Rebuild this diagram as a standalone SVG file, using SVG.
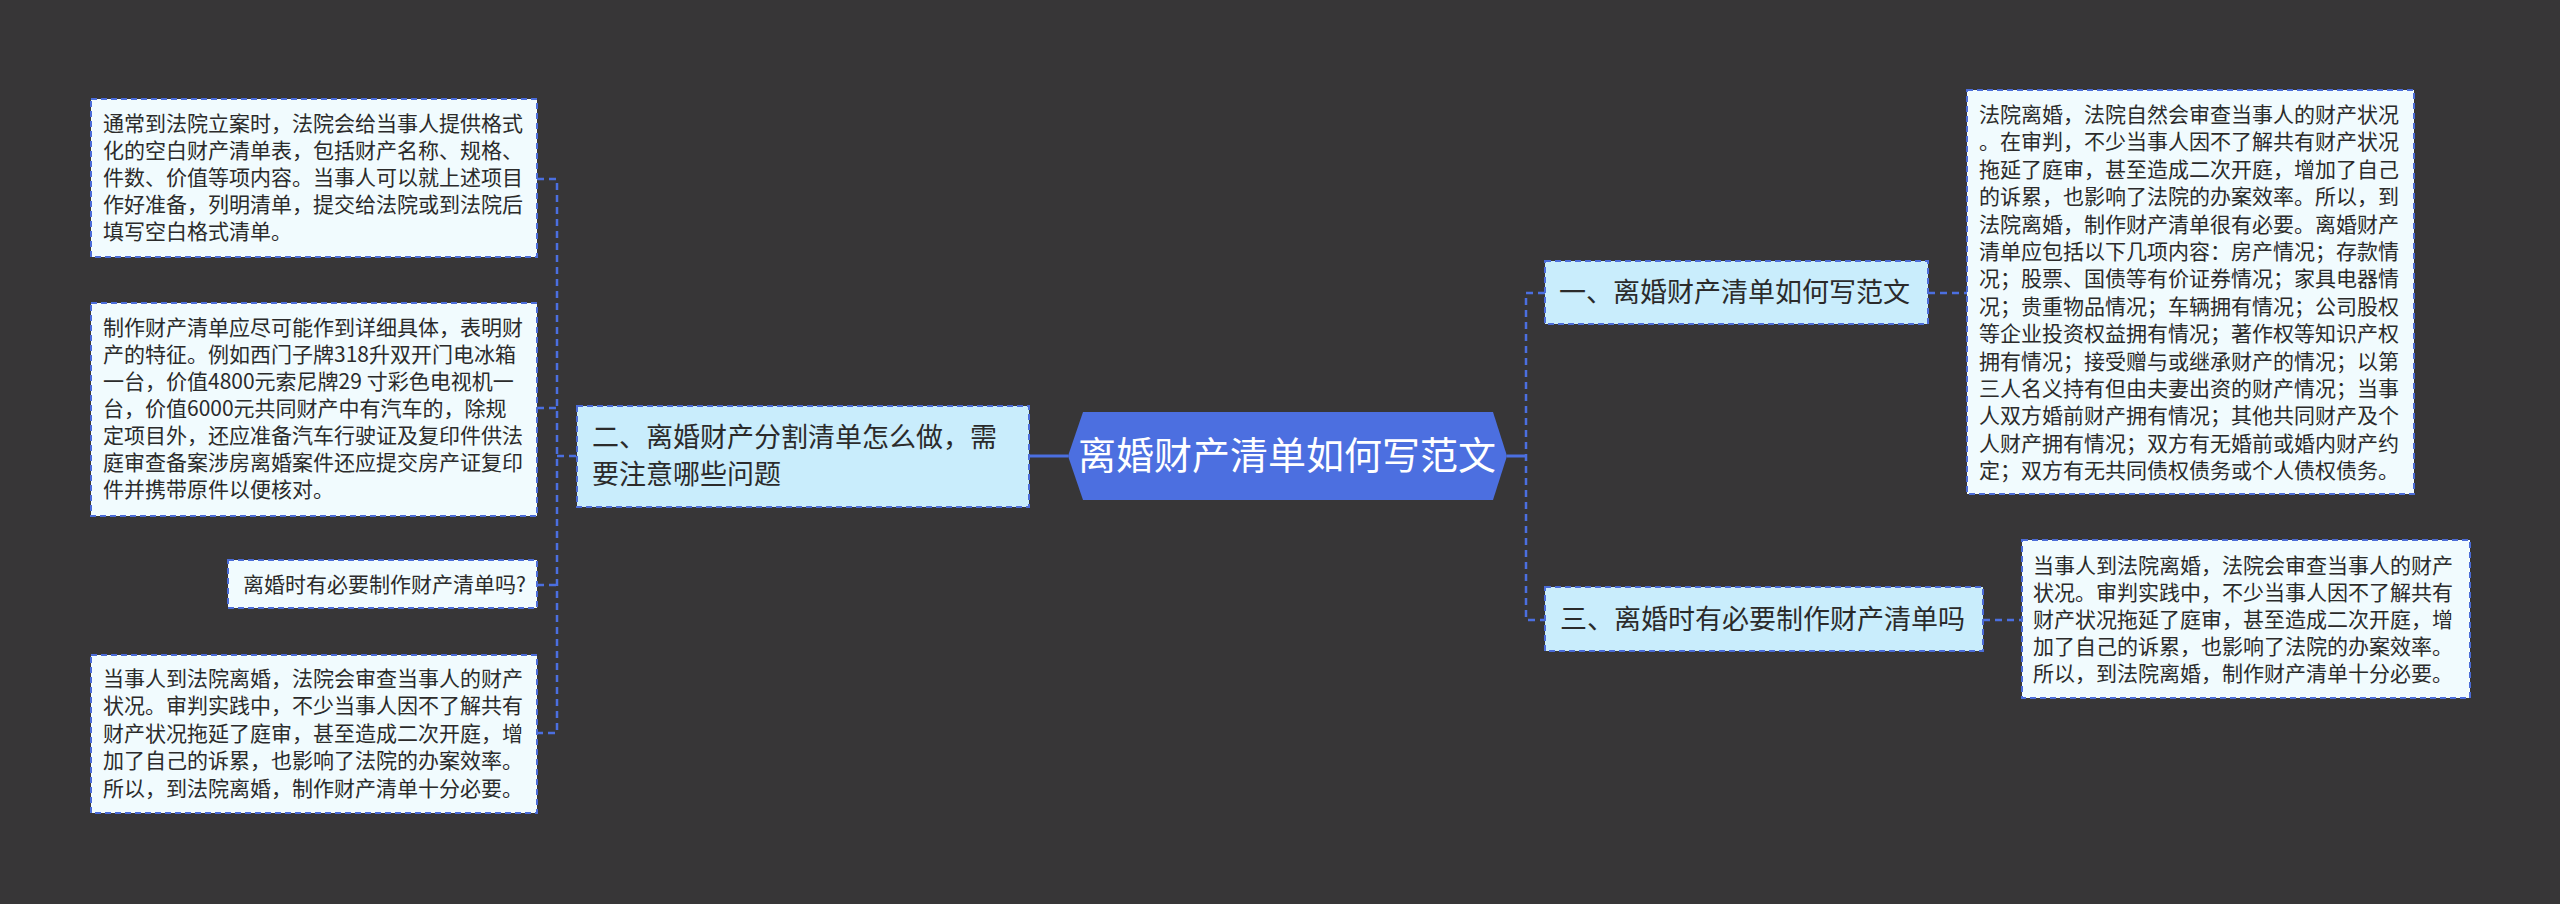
<svg xmlns="http://www.w3.org/2000/svg" width="2560" height="904" viewBox="0 0 2560 904">
<style>
.leaf{fill:#f1fbfe;stroke:#4b6cd8;stroke-width:2;stroke-dasharray:6 4}
.main{fill:#c9edfc;stroke:#4b6cd8;stroke-width:2;stroke-dasharray:6 4}
.t{font-family:"Noto Sans CJK SC","Noto Sans",sans-serif;fill:#2b2b2b}
.s{font-size:21px}
.m{font-size:27px}
.c{font-size:38px;fill:#ffffff}
.dl{fill:none;stroke:#4b6fe0;stroke-width:2.5;stroke-dasharray:7 5}
.sl{fill:none;stroke:#4b6fe0;stroke-width:3}
</style>
<rect width="2560" height="904" fill="#373637"/>
<g id="connectors">
<path class="sl" d="M1029 456 H1068"/>
<path class="sl" d="M1507 456 H1526"/>
<path class="dl" d="M537 179 H557 V733 H537"/>
<path class="dl" d="M537 408 H557"/>
<path class="dl" d="M537 585 H557"/>
<path class="dl" d="M557 456 H577"/>
<path class="dl" d="M1545 293 H1526 V620 H1545"/>
<path class="dl" d="M1928 293 H1967"/>
<path class="dl" d="M1983 620 H2022"/>
</g>
<g id="center">
<polygon points="1068,456 1083,412 1493,412 1507,456 1493,500 1083,500" fill="#4c6fe0"/>
<text class="t c" x="1287" y="469" text-anchor="middle">离婚财产清单如何写范文</text>
</g>
<g id="node-2">
<rect class="main" x="577" y="406" width="452" height="101"/>
<text class="t m" x="592" y="447">二、离婚财产分割清单怎么做，需</text>
<text class="t m" x="592" y="484">要注意哪些问题</text>
</g>
<g id="node-1">
<rect class="main" x="1545" y="261" width="383" height="63"/>
<text class="t m" x="1559" y="302">一、离婚财产清单如何写范文</text>
</g>
<g id="node-3">
<rect class="main" x="1545" y="587" width="438" height="64"/>
<text class="t m" x="1560" y="629">三、离婚时有必要制作财产清单吗</text>
</g>
<g id="leaf-l1">
<rect class="leaf" x="91" y="99" width="446" height="158"/>
<text class="t s" x="103" y="131">通常到法院立案时，法院会给当事人提供格式</text>
<text class="t s" x="103" y="158">化的空白财产清单表，包括财产名称、规格、</text>
<text class="t s" x="103" y="185">件数、价值等项内容。当事人可以就上述项目</text>
<text class="t s" x="103" y="212">作好准备，列明清单，提交给法院或到法院后</text>
<text class="t s" x="103" y="239">填写空白格式清单。</text>
</g>
<g id="leaf-l2">
<rect class="leaf" x="91" y="303" width="446" height="213"/>
<text class="t s" x="103" y="335">制作财产清单应尽可能作到详细具体，表明财</text>
<text class="t s" x="103" y="362">产的特征。例如西门子牌318升双开门电冰箱</text>
<text class="t s" x="103" y="389">一台，价值4800元索尼牌29 寸彩色电视机一</text>
<text class="t s" x="103" y="416">台，价值6000元共同财产中有汽车的，除规</text>
<text class="t s" x="103" y="443">定项目外，还应准备汽车行驶证及复印件供法</text>
<text class="t s" x="103" y="470">庭审查备案涉房离婚案件还应提交房产证复印</text>
<text class="t s" x="103" y="497">件并携带原件以便核对。</text>
</g>
<g id="leaf-l3">
<rect class="leaf" x="228" y="560" width="309" height="48"/>
<text class="t s" x="243" y="592">离婚时有必要制作财产清单吗?</text>
</g>
<g id="leaf-l4">
<rect class="leaf" x="91" y="655" width="446" height="158"/>
<text class="t s" x="103" y="686">当事人到法院离婚，法院会审查当事人的财产</text>
<text class="t s" x="103" y="713">状况。审判实践中，不少当事人因不了解共有</text>
<text class="t s" x="103" y="741">财产状况拖延了庭审，甚至造成二次开庭，增</text>
<text class="t s" x="103" y="768">加了自己的诉累，也影响了法院的办案效率。</text>
<text class="t s" x="103" y="796">所以，到法院离婚，制作财产清单十分必要。</text>
</g>
<g id="leaf-r1">
<rect class="leaf" x="1967" y="90" width="447" height="404"/>
<text class="t s" x="1979" y="122">法院离婚，法院自然会审查当事人的财产状况</text>
<text class="t s" x="1979" y="149.4">。在审判，不少当事人因不了解共有财产状况</text>
<text class="t s" x="1979" y="176.8">拖延了庭审，甚至造成二次开庭，增加了自己</text>
<text class="t s" x="1979" y="204.2">的诉累，也影响了法院的办案效率。所以，到</text>
<text class="t s" x="1979" y="231.6">法院离婚，制作财产清单很有必要。离婚财产</text>
<text class="t s" x="1979" y="259">清单应包括以下几项内容：房产情况；存款情</text>
<text class="t s" x="1979" y="286.4">况；股票、国债等有价证券情况；家具电器情</text>
<text class="t s" x="1979" y="313.8">况；贵重物品情况；车辆拥有情况；公司股权</text>
<text class="t s" x="1979" y="341.2">等企业投资权益拥有情况；著作权等知识产权</text>
<text class="t s" x="1979" y="368.6">拥有情况；接受赠与或继承财产的情况；以第</text>
<text class="t s" x="1979" y="396">三人名义持有但由夫妻出资的财产情况；当事</text>
<text class="t s" x="1979" y="423.4">人双方婚前财产拥有情况；其他共同财产及个</text>
<text class="t s" x="1979" y="450.8">人财产拥有情况；双方有无婚前或婚内财产约</text>
<text class="t s" x="1979" y="478.2">定；双方有无共同债权债务或个人债权债务。</text>
</g>
<g id="leaf-r2">
<rect class="leaf" x="2022" y="540" width="448" height="158"/>
<text class="t s" x="2033" y="573">当事人到法院离婚，法院会审查当事人的财产</text>
<text class="t s" x="2033" y="600">状况。审判实践中，不少当事人因不了解共有</text>
<text class="t s" x="2033" y="627">财产状况拖延了庭审，甚至造成二次开庭，增</text>
<text class="t s" x="2033" y="654">加了自己的诉累，也影响了法院的办案效率。</text>
<text class="t s" x="2033" y="681">所以，到法院离婚，制作财产清单十分必要。</text>
</g>
</svg>
